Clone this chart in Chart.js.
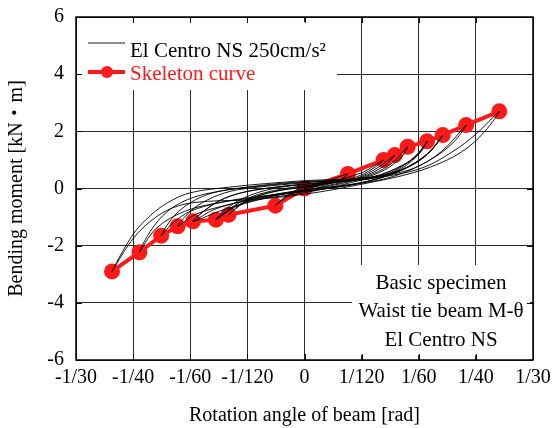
<!DOCTYPE html>
<html>
<head>
<meta charset="utf-8">
<script src="https://cdn.jsdelivr.net/npm/chart.js@4"></script>
<style>
  html, body { margin: 0; padding: 0; background: #fff; }
</style>
</head>
<body>
<canvas id="chart" width="555" height="428"></canvas>
<script>
// tick positions on the rotation axis and how they are labelled
const xTickValues = [-1/30, -1/40, -1/60, -1/120, 0, 1/120, 1/60, 1/40, 1/30];
const xTickLabels = ['-1/30', '-1/40', '-1/60', '-1/120', '0', '1/120', '1/60', '1/40', '1/30'];

// skeleton curve (rad, kN·m)
const skeletonRotation = [-0.02808, -0.02408, -0.02092, -0.0185, -0.01625, -0.01292, -0.01108, -0.00425, 0,
  0.00633, 0.01154, 0.01317, 0.01505, 0.01788, 0.02017, 0.02358, 0.02842];
const skeletonMoment = [-2.9, -2.23, -1.65, -1.32, -1.15, -1.09, -0.92, -0.6, 0,
  0.51, 1.0, 1.17, 1.46, 1.65, 1.87, 2.22, 2.7];

// hysteresis response, El Centro NS 250cm/s2 (rad, kN·m)
const hystRotation = [
  0, 0.00417, 0.00633, 0.0025, -0.00167, -0.00425, -0.00167, 0.0025, 0.00833, 0.01154,
  0.01, 0.0075, 0.00417, 0, -0.00417, -0.00833, -0.01108,
  -0.00917, -0.00667, -0.00333, 0, 0.00417, 0.00833, 0.01167, 0.01317,
  0.01083, 0.0075, 0.00333, 0, -0.00417, -0.00833, -0.01083, -0.01292,
  -0.01083, -0.00833, -0.005, 0, 0.00417, 0.00833, 0.01167, 0.01417, 0.015,
  0.01333, 0.01083, 0.00667, 0.00167, -0.00333, -0.00833, -0.0125, -0.01625,
  -0.01417, -0.01167, -0.00833, -0.00417, 0, 0.005, 0.01, 0.01417, 0.01667, 0.01792,
  0.01625, 0.01333, 0.00833, 0.00333, -0.00167, -0.00667, -0.01167, -0.01583, -0.0185,
  -0.01667, -0.01417, -0.01083, -0.00667, 0, 0.00583, 0.01083, 0.015, 0.01833, 0.02017,
  0.01833, 0.015, 0.01, 0.00417, -0.00167, -0.0075, -0.0125, -0.01667, -0.01917, -0.02092,
  -0.01917, -0.01667, -0.01333, -0.00833, -0.0025, 0.00417, 0.01, 0.01583, 0.02, 0.02358,
  0.02167, 0.01833, 0.01333, 0.0075, 0, -0.00667, -0.0125, -0.0175, -0.02167, -0.02408,
  -0.0225, -0.02, -0.01667, -0.0125, -0.00667, 0, 0.00667, 0.0125, 0.0175, 0.02167, 0.025, 0.02842,
  0.02667, 0.02417, 0.02083, 0.01583, 0.00833, 0, -0.00833, -0.01417, -0.01833, -0.02167, -0.025, -0.02808,
  -0.025, -0.0225, -0.02, -0.01667, -0.01083, -0.00417, 0.0025, 0.00833,
  0.0125, 0.015, 0.01667, 0.01792,
  0.01583, 0.0125, 0.00667, 0, -0.00583, -0.01, -0.01292,
  -0.01083, -0.0075, -0.00333, 0.0025, 0.00833, 0.0125, 0.01583, 0.01833, 0.02017,
  0.0175, 0.01333, 0.00833, 0.0025, -0.00417, -0.00917, -0.01333, -0.01625,
  -0.01333, -0.01, -0.005, 0
];
const hystMoment = [
  0, 0.2, 0.51, 0.2, -0.1, -0.6, -0.15, 0.15, 0.55, 1.0,
  0.7, 0.4, 0.2, 0.05, -0.1, -0.4, -0.92,
  -0.55, -0.25, -0.05, 0.08, 0.2, 0.4, 0.8, 1.17,
  0.75, 0.35, 0.1, -0.05, -0.2, -0.45, -0.75, -1.09,
  -0.7, -0.35, -0.1, 0.1, 0.2, 0.35, 0.65, 1.1, 1.46,
  1.0, 0.6, 0.25, 0.0, -0.2, -0.5, -0.8, -1.15,
  -0.7, -0.35, -0.1, 0.05, 0.15, 0.25, 0.4, 0.8, 1.2, 1.65,
  1.1, 0.6, 0.2, 0.0, -0.15, -0.35, -0.6, -0.9, -1.32,
  -0.8, -0.4, -0.1, 0.05, 0.2, 0.3, 0.45, 0.75, 1.3, 1.87,
  1.3, 0.75, 0.3, 0.05, -0.15, -0.3, -0.5, -0.8, -1.2, -1.65,
  -1.0, -0.5, -0.15, 0.05, 0.2, 0.3, 0.4, 0.7, 1.3, 2.22,
  1.6, 1.0, 0.45, 0.15, -0.1, -0.3, -0.5, -0.8, -1.4, -2.23,
  -1.5, -0.8, -0.35, -0.1, 0.08, 0.22, 0.3, 0.45, 0.75, 1.3, 1.9, 2.7,
  2.1, 1.5, 1.0, 0.55, 0.15, -0.2, -0.4, -0.45, -0.6, -1.0, -1.75, -2.9,
  -1.6, -0.95, -0.5, -0.15, 0.05, 0.2, 0.3, 0.3,
  0.55, 0.9, 1.25, 1.65,
  1.05, 0.6, 0.2, -0.15, -0.35, -0.6, -1.09,
  -0.6, -0.2, 0.05, 0.2, 0.3, 0.5, 0.85, 1.3, 1.87,
  1.1, 0.55, 0.2, 0.02, -0.2, -0.45, -0.75, -1.15,
  -0.55, -0.2, 0.02, 0.15
];

const noteLines = ['Basic specimen', 'Waist tie beam M-θ', 'El Centro NS'];

const serif = '"Liberation Serif", "Times New Roman", "Noto Sans CJK JP", serif';

const toPoints = (xs, ys) => xs.map((x, i) => ({ x: x, y: ys[i] }));

// white boxes, inward ticks, frame, legend and note
const decorations = {
  id: 'decorations',
  beforeDatasetsDraw(chart) {
    const { ctx, chartArea: a, scales } = chart;
    ctx.save();
    ctx.fillStyle = '#fff';
    ctx.fillRect(a.left + 2, a.top + 5, 259, 68);     // legend box
    ctx.fillRect(a.left + 276, a.top + 248, 178, 90); // note box
    ctx.strokeStyle = '#000';
    ctx.lineWidth = 1;
    ctx.beginPath();
    scales.x.ticks.forEach(t => {
      const px = Math.round(scales.x.getPixelForValue(t.value)) + 0.5;
      ctx.moveTo(px, a.top); ctx.lineTo(px, a.top + 6);
      ctx.moveTo(px, a.bottom); ctx.lineTo(px, a.bottom - 6);
    });
    scales.y.ticks.forEach(t => {
      const py = Math.round(scales.y.getPixelForValue(t.value)) + 0.5;
      ctx.moveTo(a.left, py); ctx.lineTo(a.left + 6, py);
      ctx.moveTo(a.right, py); ctx.lineTo(a.right - 6, py);
    });
    ctx.stroke();
    ctx.restore();
  },
  afterDatasetsDraw(chart) {
    const { ctx, chartArea: a } = chart;
    const ds = chart.data.datasets;
    ctx.save();
    ctx.strokeStyle = '#000';
    ctx.lineWidth = 1.5;
    ctx.strokeRect(a.left, a.top, a.right - a.left, a.bottom - a.top);

    // legend
    const lx = a.left + 12, ly = a.top + 26;
    ctx.font = '21px ' + serif;
    ctx.textBaseline = 'alphabetic';
    ctx.lineWidth = ds[0].borderWidth;
    ctx.strokeStyle = ds[0].borderColor;
    ctx.beginPath(); ctx.moveTo(lx, ly); ctx.lineTo(lx + 37, ly); ctx.stroke();
    ctx.fillStyle = '#000';
    ctx.fillText(ds[0].label, lx + 42, ly + 14);

    const ly2 = ly + 29;
    ctx.lineWidth = ds[1].borderWidth;
    ctx.strokeStyle = ds[1].borderColor;
    ctx.beginPath(); ctx.moveTo(lx, ly2); ctx.lineTo(lx + 37, ly2); ctx.stroke();
    ctx.fillStyle = ds[1].pointBackgroundColor;
    ctx.beginPath(); ctx.arc(lx + 19, ly2, ds[1].pointRadius, 0, Math.PI * 2); ctx.fill();
    ctx.fillText(ds[1].label, lx + 42, ly2 + 8);

    // note
    ctx.fillStyle = '#000';
    ctx.textAlign = 'center';
    ctx.textBaseline = 'middle';
    const nx = a.left + 365;
    noteLines.forEach((s, i) => ctx.fillText(s, nx, a.top + 266 + i * 28.5));
    ctx.restore();
  }
};

new Chart(document.getElementById('chart').getContext('2d'), {
  type: 'line',
  data: {
    datasets: [
      {
        label: 'El Centro NS 250cm/s²',
        data: toPoints(hystRotation, hystMoment),
        borderColor: '#000',
        borderWidth: 0.9,
        pointRadius: 0,
        tension: 0.35,
        fill: false,
      },
      {
        label: 'Skeleton curve',
        data: toPoints(skeletonRotation, skeletonMoment),
        borderColor: '#ff1a1a',
        backgroundColor: '#ff1a1a',
        pointBackgroundColor: '#ff1a1a',
        pointBorderColor: '#ff1a1a',
        borderWidth: 4,
        pointRadius: 6,
        tension: 0,
        fill: false,
      },
    ],
  },
  options: {
    responsive: false,
    animation: false,
    layout: { padding: { left: 5, right: 22, top: 17, bottom: 0 } },
    plugins: { legend: { display: false }, tooltip: { enabled: false } },
    scales: {
      x: {
        type: 'linear',
        min: -1/30,
        max: 1/30,
        afterBuildTicks: (scale) => { scale.ticks = xTickValues.map(v => ({ value: v })); },
        afterFit: (scale) => { scale.height = 68; scale.paddingLeft = 0; scale.paddingRight = 0; },
        ticks: {
          color: '#000',
          font: { family: serif, size: 20 },
          padding: 6,
          maxRotation: 0,
          autoSkip: false,
          callback: (v, i) => xTickLabels[i],
        },
        grid: { color: '#2a2a2a', lineWidth: 1, drawTicks: false },
        border: { display: false },
        title: {
          display: true,
          text: 'Rotation angle of beam [rad]',
          color: '#000',
          font: { family: serif, size: 20 },
          padding: { top: 10, bottom: 0 },
        },
      },
      y: {
        min: -6,
        max: 6,
        afterFit: (scale) => { scale.width = 71; scale.paddingTop = 0; scale.paddingBottom = 0; },
        ticks: {
          stepSize: 2,
          color: '#000',
          font: { family: serif, size: 20 },
          padding: 12,
        },
        grid: { color: '#2a2a2a', lineWidth: 1, drawTicks: false },
        border: { display: false },
        title: {
          display: true,
          text: 'Bending moment [kN・m]',
          color: '#000',
          font: { family: serif, size: 20 },
          padding: { top: 0, bottom: 4 },
        },
      },
    },
  },
  plugins: [decorations],
});
</script>
</body>
</html>
